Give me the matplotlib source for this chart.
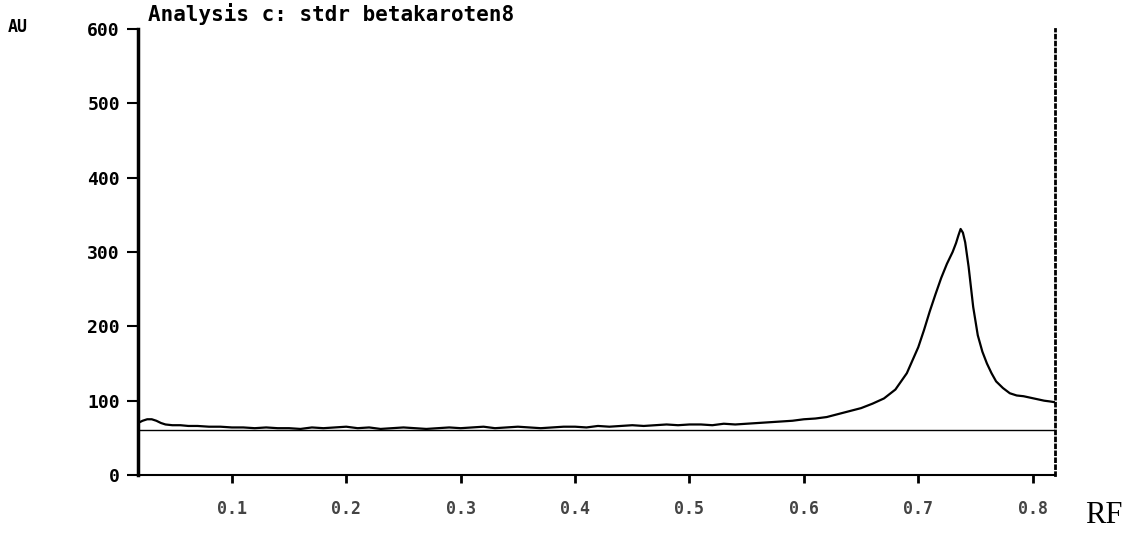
import numpy as np
import matplotlib
matplotlib.use("Agg")
import matplotlib.pyplot as plt

# Densitogram trace (RF vs AU)
rf = [0.018, 0.022, 0.026, 0.030, 0.034, 0.038, 0.042, 0.048, 0.055, 0.062,
      0.070, 0.080, 0.090, 0.100, 0.110, 0.120, 0.130, 0.140, 0.150, 0.160,
      0.170, 0.180, 0.190, 0.200, 0.210, 0.220, 0.230, 0.240, 0.250, 0.260,
      0.270, 0.280, 0.290, 0.300, 0.310, 0.320, 0.330, 0.340, 0.350, 0.360,
      0.370, 0.380, 0.390, 0.400, 0.410, 0.420, 0.430, 0.440, 0.450, 0.460,
      0.470, 0.480, 0.490, 0.500, 0.510, 0.520, 0.530, 0.540, 0.550, 0.560,
      0.570, 0.580, 0.590, 0.600, 0.610, 0.620, 0.630, 0.640, 0.650, 0.660,
      0.670, 0.680, 0.690, 0.700, 0.705, 0.710, 0.715, 0.720, 0.725, 0.730,
      0.733, 0.735, 0.737, 0.739, 0.741, 0.744, 0.748, 0.752, 0.756, 0.760,
      0.764, 0.768, 0.774, 0.780, 0.786, 0.792, 0.798, 0.804, 0.810, 0.815,
      0.819]
au = [70, 73, 75, 75, 73, 70, 68, 67, 67, 66,
      66, 65, 65, 64, 64, 63, 64, 63, 63, 62,
      64, 63, 64, 65, 63, 64, 62, 63, 64, 63,
      62, 63, 64, 63, 64, 65, 63, 64, 65, 64,
      63, 64, 65, 65, 64, 66, 65, 66, 67, 66,
      67, 68, 67, 68, 68, 67, 69, 68, 69, 70,
      71, 72, 73, 75, 76, 78, 82, 86, 90, 96,
      103, 115, 137, 172, 195, 220, 243, 265, 284, 300,
      312, 322, 331, 326, 313, 280, 226, 188, 166, 150,
      137, 126, 117, 110, 107, 106, 104, 102, 100, 99,
      98]
baseline_au = 61

x_ticks = [0.1, 0.2, 0.3, 0.4, 0.5, 0.6, 0.7, 0.8]
x_labels = ["0.1", "0.2", "0.3", "0.4", "0.5", "0.6", "0.7", "0.8"]
y_ticks = [0, 100, 200, 300, 400, 500, 600]
title = "Analysis c: stdr betakaroten8"

mono = "DejaVu Sans Mono"

fig = plt.figure(figsize=(11.36, 5.39), dpi=100)
ax = fig.add_axes([0.1215, 0.1187, 0.8072, 0.8275])

ax.plot(rf, au, color="black", linewidth=1.6)
ax.axhline(baseline_au, color="black", linewidth=1.0)

ax.set_xlim(0.018, 0.8195)
ax.set_ylim(0, 600)

ax.spines["top"].set_visible(False)
ax.spines["left"].set_linewidth(2.5)
ax.spines["bottom"].set_linewidth(1.5)
ax.spines["right"].set_linestyle((0, (1, 1.5)))
ax.spines["right"].set_linewidth(2)

ax.set_xticks(x_ticks)
ax.set_xticklabels(x_labels, fontfamily=mono, fontweight="bold", fontsize=12, color="#444444")
ax.set_yticks(y_ticks)
ax.set_yticklabels([str(v) for v in y_ticks], fontfamily=mono, fontweight="bold", fontsize=13)
ax.tick_params(axis="x", direction="out", length=6, width=2, pad=12)
ax.tick_params(axis="y", direction="out", length=8, width=1.5, pad=5)

fig.text(0.130, 0.974, title, fontfamily=mono, fontweight="bold", fontsize=15, va="center", ha="left")
fig.text(0.007, 0.950, "AU", fontfamily=mono, fontweight="bold", fontsize=12, va="center", ha="left")
fig.text(0.955, 0.0445, "RF", fontfamily="Liberation Serif", fontsize=22, va="center", ha="left")

fig.savefig("out.png", dpi=100)
